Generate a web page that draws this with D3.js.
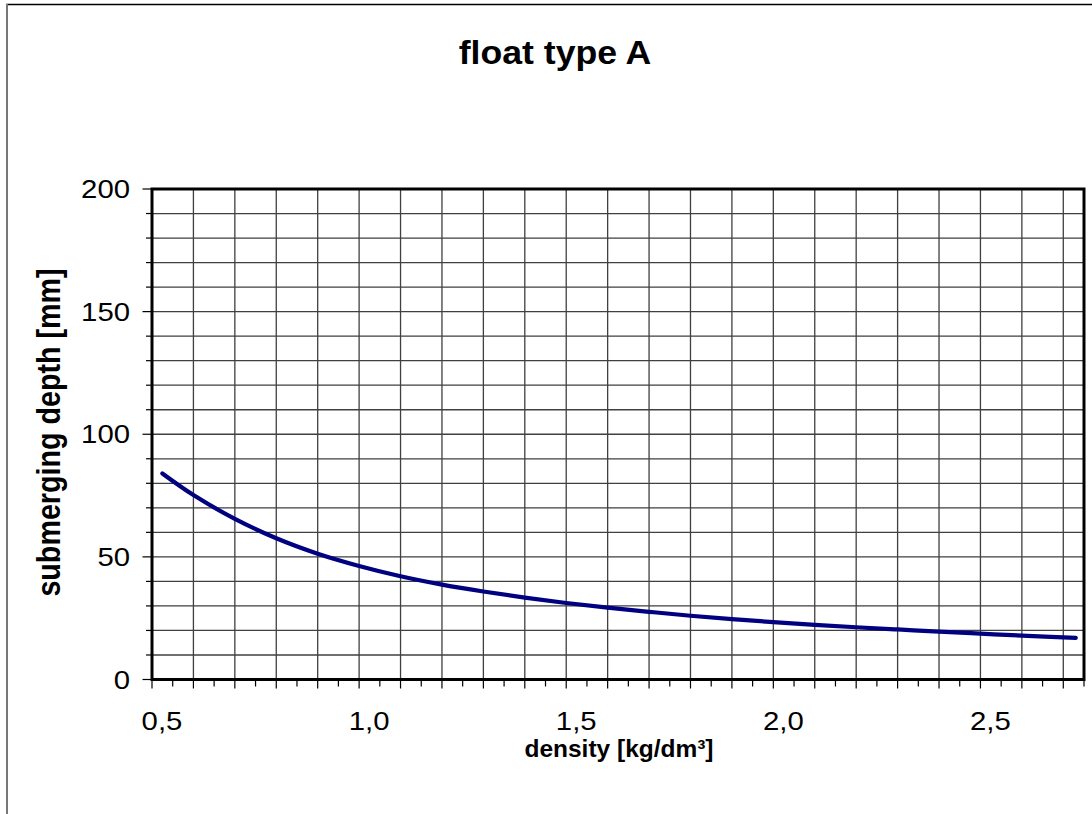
<!DOCTYPE html>
<html>
<head>
<meta charset="utf-8">
<script src="https://cdn.jsdelivr.net/npm/d3@7"></script>
<style>
  html, body { margin: 0; padding: 0; background: #fff; }
  svg { display: block; }
  text { font-family: "Liberation Sans", Arial, sans-serif; fill: #000; }
</style>
</head>
<body>
<svg id="chart" width="1092" height="814"></svg>
<script>
// ---- data ----
const chartTitle = "float type A";
const xTitle = "density [kg/dm³]";
const yTitle = "submerging depth [mm]";

const density = [0.525, 0.6, 0.7, 0.8, 0.9, 1.0, 1.1, 1.2, 1.3, 1.4, 1.5, 1.6, 1.7, 1.8, 1.9, 2.0, 2.1, 2.2, 2.3, 2.4, 2.5, 2.6, 2.73];
const depth   = [84.0, 75.2, 65.5, 57.6, 51.3, 46.3, 42.1, 38.7, 35.9, 33.4, 31.2, 29.3, 27.6, 26.0, 24.6, 23.4, 22.3, 21.3, 20.4, 19.5, 18.7, 17.9, 17.0];

const xDomain = [0.5, 2.75];
const yDomain = [0, 200];
const xTickValues = [0.5, 1.0, 1.5, 2.0, 2.5];
const xTickLabels = ["0,5", "1,0", "1,5", "2,0", "2,5"];
const yTickValues = [0, 50, 100, 150, 200];
const yTickLabels = ["0", "50", "100", "150", "200"];

// ---- layout ----
const svg = d3.select("#chart");
const plot = { left: 152, top: 189, right: 1084, bottom: 679.5 };
const SX = 1.15; // horizontal stretch of the original picture

const x = d3.scaleLinear().domain(xDomain).range([plot.left, plot.right]);
const y = d3.scaleLinear().domain(yDomain).range([plot.bottom, plot.top]);

// outer chart frame (extends beyond the window on right/bottom)
svg.append("line").attr("x1", 6).attr("x2", 1100).attr("y1", 4.5).attr("y2", 4.5)
  .attr("stroke", "#000").attr("stroke-width", 1.5);
svg.append("line").attr("x1", 7).attr("x2", 7).attr("y1", 4).attr("y2", 820)
  .attr("stroke", "#777").attr("stroke-width", 2);

// gridlines
const xGrid = d3.range(Math.round(xDomain[0] * 10) + 1, Math.round(xDomain[1] * 10) + 1).map(d => d / 10)
  .filter(v => v < xDomain[1]);
const yGrid = d3.range(10, 200, 10);
const grid = svg.append("g").attr("stroke", "#111").attr("stroke-width", 1.3).attr("opacity", 0.8);
grid.selectAll("line.v").data(xGrid).join("line").attr("class", "v")
  .attr("x1", d => x(d)).attr("x2", d => x(d)).attr("y1", plot.top).attr("y2", plot.bottom);
grid.selectAll("line.h").data(yGrid).join("line").attr("class", "h")
  .attr("x1", plot.left).attr("x2", plot.right).attr("y1", d => y(d)).attr("y2", d => y(d));

// ticks
const yTickAll = d3.range(0, 201, 10);
svg.append("g").attr("stroke", "#000").attr("stroke-width", 1.2)
  .selectAll("line").data(yTickAll).join("line")
  .attr("x1", d => plot.left - (d % 50 === 0 ? 9.5 : 6)).attr("x2", plot.left)
  .attr("y1", d => y(d)).attr("y2", d => y(d));

const xTickAll = d3.range(Math.round(xDomain[0] * 20), Math.round(xDomain[1] * 20) + 1).map(d => d / 20);
svg.append("g").attr("stroke", "#000").attr("stroke-width", 1.2)
  .selectAll("line").data(xTickAll).join("line")
  .attr("x1", d => x(d)).attr("x2", d => x(d))
  .attr("y1", plot.bottom)
  .attr("y2", d => plot.bottom + (Math.round(d * 20) % 2 === 0 ? 9 : 7));

// plot border
svg.append("rect").attr("x", plot.left).attr("y", plot.top)
  .attr("width", plot.right - plot.left).attr("height", plot.bottom - plot.top)
  .attr("fill", "none").attr("stroke", "#000").attr("stroke-width", 3);

// curve
const line = d3.line().x((d, i) => x(density[i])).y((d, i) => y(depth[i])).curve(d3.curveCatmullRom.alpha(0.5));
svg.append("path").datum(depth).attr("d", line)
  .attr("fill", "none").attr("stroke", "#000080").attr("stroke-width", 4.2)
  .attr("stroke-linecap", "round").attr("stroke-linejoin", "round");

// tick labels
svg.append("g").selectAll("g").data(xTickValues).join("g")
  .attr("transform", d => `translate(${x(d) + 10},729.5) scale(${SX},1)`)
  .append("text").attr("text-anchor", "middle").attr("font-size", 25.5)
  .text((d, i) => xTickLabels[i]);

svg.append("g").selectAll("g").data(yTickValues).join("g")
  .attr("transform", d => `translate(130,${y(d) + 9.2}) scale(${SX},1)`)
  .append("text").attr("text-anchor", "end").attr("font-size", 25.5)
  .text((d, i) => yTickLabels[i]);

// titles
svg.append("g").attr("transform", `translate(555,64.3) scale(1.08,1)`)
  .append("text").attr("text-anchor", "middle").attr("font-size", 33).attr("font-weight", "bold")
  .text(chartTitle);

svg.append("g").attr("transform", `translate(619,757) scale(1.02,1)`)
  .append("text").attr("text-anchor", "middle").attr("font-size", 24).attr("font-weight", "bold")
  .text(xTitle);

svg.append("g").attr("transform", `translate(59.5,432.5) rotate(-90) scale(1,${SX})`)
  .append("text").attr("text-anchor", "middle").attr("font-size", 28.7).attr("font-weight", "bold")
  .text(yTitle);
</script>
</body>
</html>
